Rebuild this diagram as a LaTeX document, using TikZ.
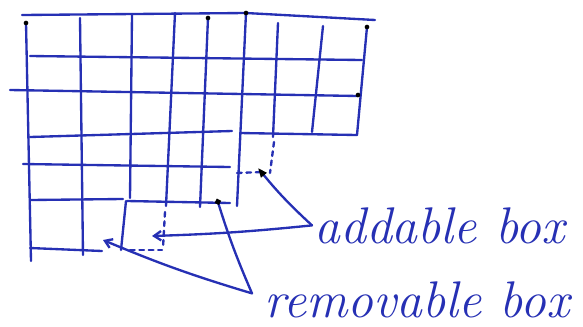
\documentclass[tikz,border=0pt]{standalone}
\usepackage{xcolor}
\usepackage{tikz}
\usetikzlibrary{arrows.meta,positioning,calc}
\definecolor{inkblue}{RGB}{38,48,180}
\tikzset{
  pen/.style={draw=inkblue, line width=2pt, line cap=round},
  dashpen/.style={pen, dash pattern=on 4pt off 4pt},
  tag/.style={text=inkblue, font=\fontsize{44}{44}\selectfont\itshape, inner sep=2pt},
  fillarrow/.style={pen, -{Triangle[length=8pt, width=6pt, color=black, fill=black]}},
  openarrow/.style={pen, -{Straight Barb[length=6pt, width=8pt]}},
  dotarrow/.style={pen, -{Circle[length=5pt, color=black, fill=black]}},
}

\begin{document}
\begin{tikzpicture}[x=0.03cm, y=-0.03cm]
  \useasboundingbox (0,0) rectangle (583,326);

  % Rows of the diagram
  \draw[pen] (22,15) -- (246,13) -- (375,20);
  \draw[pen] (30,56) -- (362,60);
  \draw[pen] (10,90) -- (358,96);
  \draw[pen] (30,137) -- (232,131);
  \draw[pen] (240,133) -- (357,135);
  \draw[pen] (23,164) -- (230,167);
  \draw[pen] (30,200) -- (123,199);
  \draw[pen] (127,201) -- (230,203);
  \draw[pen] (30,248) -- (102,251);

  % Columns
  \foreach \xa/\ya/\xb/\yb in {26/23/31/261, 80/18/83/255, 132/15/130/198,
      175/13/166/206, 208/18/200/207, 246/13/237/206, 278/23/273/137,
      323/26/312/132, 367/27/357/135}
    \draw[pen] (\xa,\ya) -- (\xb,\yb);
  \draw[pen] (126,201) -- (121,250);

  % Addable boxes (dashed sides)
  \draw[dashpen] (274,142) -- (270,173);
  \draw[dashpen] (237,173) -- (262,172);
  \draw[dashpen] (165,212) -- (163,248);
  \draw[dashpen] (130,250) -- (162,250);

  % Ink blots
  \foreach \p in {(26,23),(208,18),(246,13),(367,27),(358,95)}
    \fill[black] \p circle (2pt);

  % Labels
  \node[tag, anchor=base west] (addable) at (312,243) {addable box};
  \node[tag, anchor=base west] (removable) at (262,317) {removable box};

  % Pointed boxes
  \coordinate (add1) at (258,168);
  \coordinate (add2) at (152,236);
  \coordinate (rem1) at (217,199);
  \coordinate (rem2) at (103,240);

  \draw[fillarrow] (addable.west) to[bend left=4] (add1);
  \draw[openarrow] (addable.west) to[bend left=2] (add2);
  \draw[dotarrow] ([shift={(-10,-6)}]removable.west) to[bend left=3] (rem1);
  \draw[openarrow] ([shift={(-10,-6)}]removable.west) to[bend left=3] (rem2);
\end{tikzpicture}
\end{document}
